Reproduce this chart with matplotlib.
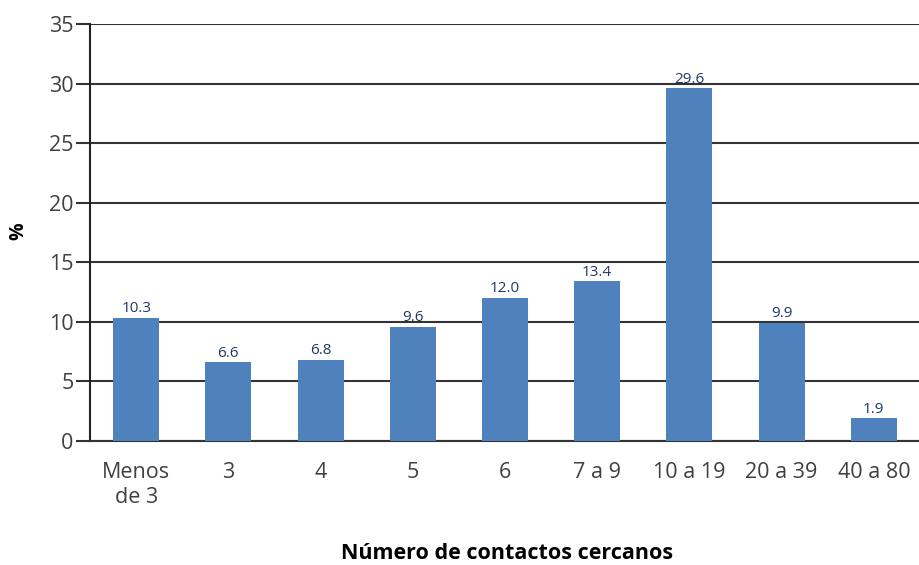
import numpy as np
import matplotlib.pyplot as plt

# Data
categorias = ['Menos\nde 3', '3', '4', '5', '6', '7 a 9', '10 a 19', '20 a 39', '40 a 80']
porcentajes = [10.3, 6.6, 6.8, 9.6, 12.0, 13.4, 29.6, 9.9, 1.9]
y_ticks = [0, 5, 10, 15, 20, 25, 30, 35]

plt.rcParams['font.family'] = ['Open Sans', 'DejaVu Sans']

fig = plt.figure(figsize=(9.19, 5.65), dpi=100)
ax = fig.add_axes([0.098, 0.2195, 0.903, 0.738])

x = np.arange(len(categorias))
ax.bar(x, porcentajes, width=0.5, color='#4F81BD', zorder=3)

# value labels above each bar
for xi, v in zip(x, porcentajes):
    ax.text(xi, v + 0.15, '{:.1f}'.format(v), ha='center', va='bottom',
            fontsize=11, color='#1F3864', zorder=4)

ax.set_xlim(-0.5, len(categorias) - 0.5)
ax.set_ylim(0, 35)
ax.set_yticks(y_ticks)
ax.set_xticks(x)
ax.set_xticklabels(categorias, fontsize=15.5, color='#404040', linespacing=1.25)
ax.tick_params(axis='y', labelsize=15.5, labelcolor='#404040', length=10, width=1.5,
               color='#333333', pad=2)
ax.tick_params(axis='x', length=0, pad=15)

ax.grid(axis='y', color='#333333', linewidth=1.5, zorder=0)
for s in ['top', 'right']:
    ax.spines[s].set_visible(False)
ax.spines['left'].set_color('#222222')
ax.spines['left'].set_linewidth(1.5)
ax.spines['bottom'].set_color('#333333')
ax.spines['bottom'].set_linewidth(1.5)

fig.text(0.02, 0.59, '%', rotation=90, ha='center', va='center',
         fontsize=14, fontweight='bold')
fig.text(0.552, 0.02, 'Número de contactos cercanos', ha='center', va='center',
         fontsize=15.5, fontweight='bold')

fig.savefig('out.png', dpi=100)
